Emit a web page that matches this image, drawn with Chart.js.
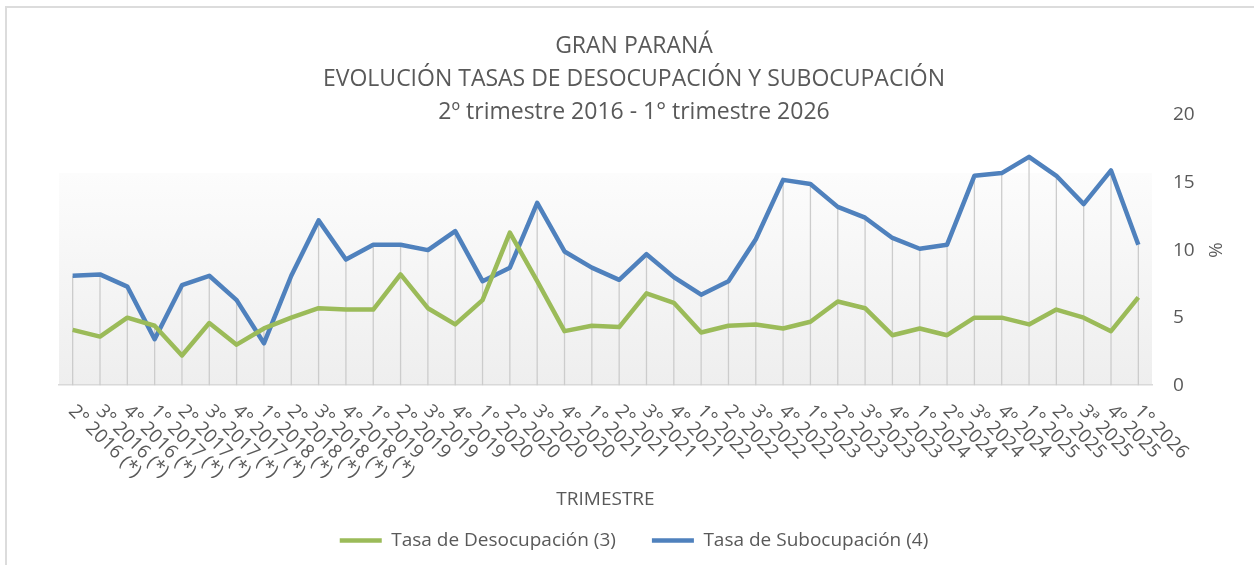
<!DOCTYPE html>
<html>
<head>
<meta charset="utf-8">
<script src="https://cdn.jsdelivr.net/npm/chart.js@4"></script>
<style>
  html, body { margin: 0; padding: 0; background: #fff; overflow: hidden; }
  #marco { position: absolute; left: 5px; top: 6px; width: 1300px; height: 600px;
           border-left: 2px solid #dcdcdc; border-top: 2px solid #dcdcdc; }
  #caja { position: absolute; left: 0; top: 0; width: 1254px; height: 565px; }
</style>
</head>
<body>
<div id="marco"></div>
<div id="caja"><canvas id="grafico"></canvas></div>
<script>
const trimestres = [
  "2° 2016 (*)", "3° 2016 (*)", "4° 2016 (*)",
  "1° 2017 (*)", "2° 2017 (*)", "3° 2017 (*)", "4° 2017 (*)",
  "1° 2018 (*)", "2° 2018 (*)", "3° 2018 (*)", "4° 2018 (*)",
  "1° 2019", "2° 2019", "3° 2019", "4° 2019",
  "1° 2020", "2° 2020", "3° 2020", "4° 2020",
  "1° 2021", "2° 2021", "3° 2021", "4° 2021",
  "1° 2022", "2° 2022", "3° 2022", "4° 2022",
  "1° 2023", "2° 2023", "3° 2023", "4° 2023",
  "1° 2024", "2° 2024", "3º 2024", "4º 2024",
  "1° 2025", "2° 2025", "3ª 2025", "4º 2025",
  "1° 2026"
];

const tasaDesocupacion = [
  4.1, 3.6, 5.0,
  4.4, 2.2, 4.6, 3.0,
  4.2, 5.0, 5.7, 5.6,
  5.6, 8.2, 5.7, 4.5,
  6.3, 11.3, 7.7, 4.0,
  4.4, 4.3, 6.8, 6.1,
  3.9, 4.4, 4.5, 4.2,
  4.7, 6.2, 5.7, 3.7,
  4.2, 3.7, 5.0, 5.0,
  4.5, 5.6, 5.0, 4.0,
  6.5
];

const tasaSubocupacion = [
  8.1, 8.2, 7.3,
  3.4, 7.4, 8.1, 6.3,
  3.1, 8.1, 12.2, 9.3,
  10.4, 10.4, 10.0, 11.4,
  7.7, 8.7, 13.5, 9.9,
  8.7, 7.8, 9.7, 8.0,
  6.7, 7.7, 10.8, 15.2,
  14.9, 13.2, 12.4, 10.9,
  10.1, 10.4, 15.5, 15.7,
  16.9, 15.5, 13.4, 15.9,
  10.4
];

const ticksY = [0, 5, 10, 15, 20];

const titulo = [
  "GRAN PARANÁ",
  "EVOLUCIÓN TASAS DE DESOCUPACIÓN Y SUBOCUPACIÓN",
  "2º trimestre 2016 - 1° trimestre 2026"
];

const gris = "#595959";
const fuente = "Open Sans";

// fondo degradado del área de trazado
const fondo = {
  id: "fondo",
  beforeDraw(chart) {
    const { ctx, chartArea: a } = chart;
    const arriba = a.top + a.height * 0.215;
    const g = ctx.createLinearGradient(0, arriba, 0, a.bottom);
    g.addColorStop(0, "#fcfcfc");
    g.addColorStop(1, "#eeeeee");
    ctx.save();
    ctx.fillStyle = g;
    ctx.fillRect(a.left, arriba, a.width, a.bottom - arriba);
    ctx.restore();
  }
};

// líneas de caída desde el punto más alto hasta el eje
const caidas = {
  id: "caidas",
  beforeDatasetsDraw(chart) {
    const { ctx, chartArea: a, scales: { x, y } } = chart;
    ctx.save();
    ctx.strokeStyle = "#cccccc";
    ctx.lineWidth = 1.3;
    trimestres.forEach((_, i) => {
      const px = x.getPixelForValue(i);
      const py = y.getPixelForValue(Math.max(tasaDesocupacion[i], tasaSubocupacion[i]));
      ctx.beginPath();
      ctx.moveTo(px, py);
      ctx.lineTo(px, a.bottom);
      ctx.stroke();
    });
    ctx.restore();
  }
};

// etiquetas del eje x giradas hacia abajo a la derecha
const etiquetasX = {
  id: "etiquetasX",
  afterDraw(chart) {
    const { ctx, chartArea: a, scales: { x } } = chart;
    ctx.save();
    ctx.font = "19px '" + fuente + "'";
    ctx.fillStyle = gris;
    ctx.textAlign = "left";
    ctx.textBaseline = "middle";
    trimestres.forEach((t, i) => {
      ctx.save();
      ctx.translate(x.getPixelForValue(i) - 1, a.bottom + 23);
      ctx.rotate(Math.PI / 4);
      ctx.fillText(t, 0, 0);
      ctx.restore();
    });
    ctx.restore();
  }
};

new Chart(document.getElementById("grafico"), {
  type: "line",
  data: {
    labels: trimestres,
    datasets: [
      {
        label: "Tasa de Desocupación (3)",
        data: tasaDesocupacion,
        borderColor: "#9bbb59",
        backgroundColor: "#9bbb59",
        borderWidth: 4.5,
        borderJoinStyle: "round",
        pointRadius: 0,
        tension: 0
      },
      {
        label: "Tasa de Subocupación (4)",
        data: tasaSubocupacion,
        borderColor: "#4f81bd",
        backgroundColor: "#4f81bd",
        borderWidth: 4.5,
        borderJoinStyle: "round",
        pointRadius: 0,
        tension: 0
      }
    ]
  },
  options: {
    responsive: true,
    maintainAspectRatio: false,
    animation: false,
    layout: { padding: { left: 59, right: 45, top: 0, bottom: 5 } },
    plugins: {
      title: {
        display: true,
        text: titulo,
        color: gris,
        font: { family: fuente, size: 23, weight: "normal", lineHeight: 1.435 },
        padding: { top: 30, bottom: -14 }
      },
      legend: {
        position: "bottom",
        labels: {
          usePointStyle: true,
          pointStyle: "line",
          pointStyleWidth: 42,
          color: gris,
          font: { family: fuente, size: 19 },
          padding: 36
        }
      },
      tooltip: { enabled: false }
    },
    scales: {
      x: {
        offset: true,
        grid: { display: false, drawTicks: false },
        border: { color: "#d9d9d9", width: 1.5 },
        ticks: { display: false },
        title: {
          display: true,
          text: "TRIMESTRE",
          color: gris,
          font: { family: fuente, size: 19 },
          padding: { top: 103, bottom: -16 }
        }
      },
      y: {
        position: "right",
        min: ticksY[0],
        max: ticksY[ticksY.length - 1],
        afterBuildTicks(s) { s.ticks = ticksY.map(v => ({ value: v })); },
        afterFit(s) { s.width = 57; },
        ticks: { padding: 21, color: gris, font: { family: fuente, size: 19 } },
        grid: { display: false, drawTicks: false },
        border: { display: false },
        title: {
          display: true,
          text: "%",
          color: gris,
          font: { family: fuente, size: 19 },
          padding: { top: -17, bottom: 0 }
        }
      }
    }
  },
  plugins: [fondo, caidas, etiquetasX]
});
</script>
</body>
</html>
